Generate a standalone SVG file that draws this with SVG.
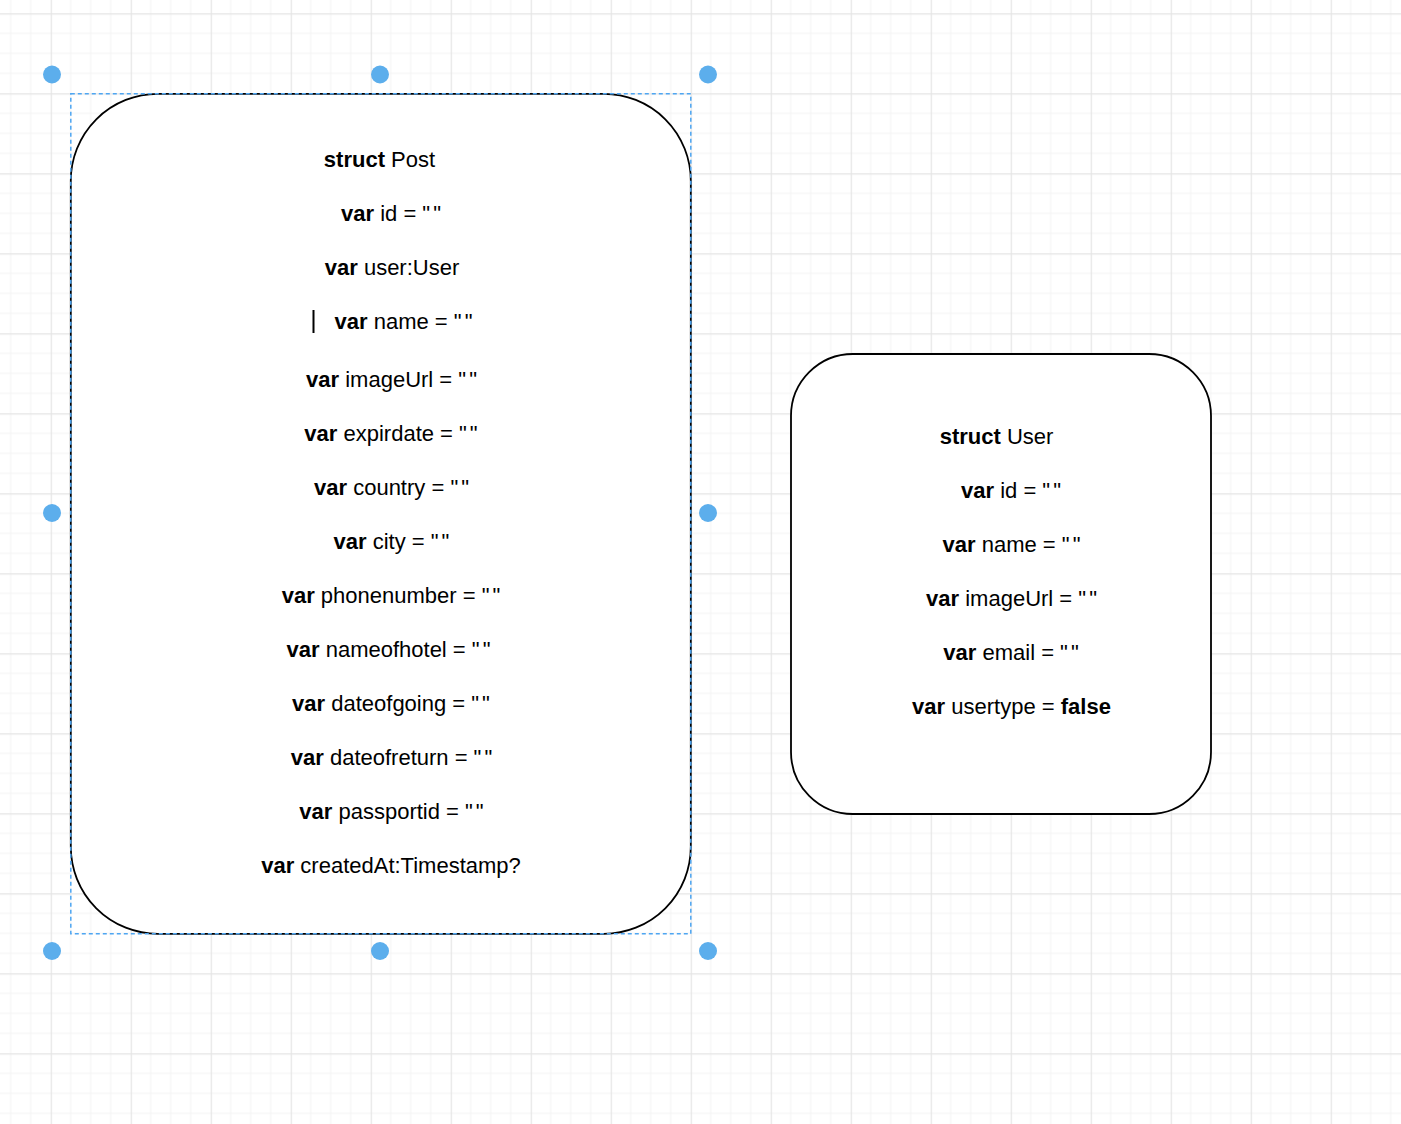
<svg xmlns="http://www.w3.org/2000/svg" width="1401" height="1124" viewBox="0 0 1401 1124">
<defs>
<pattern id="grid" patternUnits="userSpaceOnUse" x="50.7" y="13.3" width="80" height="80">
<path d="M20 0V80M40 0V80M60 0V80M0 20H80M0 40H80M0 60H80" stroke="#f3f3f3" stroke-width="1" fill="none"/>
<path d="M0.5 0V80M0 0.5H80" stroke="#e4e4e4" stroke-width="1.3" fill="none"/>
</pattern>
<style>
.box{fill:#ffffff;stroke:#000000;stroke-width:1.8}
.sel{fill:none;stroke:#4ea6f2;stroke-width:1.5;stroke-dasharray:4 3}
.h{fill:#5caeec}
text{font-family:"Liberation Sans",Arial,Helvetica,sans-serif;font-size:22px;fill:#000;text-anchor:middle}
.b{font-weight:bold}
</style>
</defs>
<rect x="0" y="0" width="1401" height="1124" fill="#ffffff"/>
<rect x="0" y="0" width="1401" height="1124" fill="url(#grid)"/>
<g id="connectors"></g>
<g id="post">
<rect class="box" x="70.8" y="93.8" width="620" height="840" rx="87" ry="87"/>
<text x="379.5" y="167"><tspan class="b">struct</tspan> Post</text>
<text x="391" y="221"><tspan class="b">var</tspan> id = "<tspan dx="3">"</tspan></text>
<text x="392" y="275"><tspan class="b">var</tspan> user:User</text>
<rect x="312.5" y="310" width="2" height="23" fill="#000"/>
<text x="403.5" y="329"><tspan class="b">var</tspan> name = "<tspan dx="3">"</tspan></text>
<text x="391.5" y="387"><tspan class="b">var</tspan> imageUrl = "<tspan dx="3">"</tspan></text>
<text x="391" y="441"><tspan class="b">var</tspan> expirdate = "<tspan dx="3">"</tspan></text>
<text x="391.5" y="495"><tspan class="b">var</tspan> country = "<tspan dx="3">"</tspan></text>
<text x="391.5" y="549"><tspan class="b">var</tspan> city = "<tspan dx="3">"</tspan></text>
<text x="391" y="603"><tspan class="b">var</tspan> phonenumber = "<tspan dx="3">"</tspan></text>
<text x="388.5" y="657"><tspan class="b">var</tspan> nameofhotel = "<tspan dx="3">"</tspan></text>
<text x="391" y="711"><tspan class="b">var</tspan> dateofgoing = "<tspan dx="3">"</tspan></text>
<text x="391.5" y="765"><tspan class="b">var</tspan> dateofreturn = "<tspan dx="3">"</tspan></text>
<text x="391.5" y="819"><tspan class="b">var</tspan> passportid = "<tspan dx="3">"</tspan></text>
<text x="391" y="873"><tspan class="b">var</tspan> createdAt:Timestamp?</text>
</g>
<g id="selection">
<rect class="sel" x="70.8" y="93.8" width="620" height="840"/>
<circle class="h" cx="52" cy="74.5" r="9"/>
<circle class="h" cx="380" cy="74.5" r="9"/>
<circle class="h" cx="708" cy="74.5" r="9"/>
<circle class="h" cx="52" cy="513" r="9"/>
<circle class="h" cx="708" cy="513" r="9"/>
<circle class="h" cx="52" cy="951" r="9"/>
<circle class="h" cx="380" cy="951" r="9"/>
<circle class="h" cx="708" cy="951" r="9"/>
</g>
<g id="user">
<rect class="box" x="791" y="354" width="420" height="460" rx="62" ry="62"/>
<text x="996.5" y="444"><tspan class="b">struct</tspan> User</text>
<text x="1011" y="498"><tspan class="b">var</tspan> id = "<tspan dx="3">"</tspan></text>
<text x="1011.5" y="552"><tspan class="b">var</tspan> name = "<tspan dx="3">"</tspan></text>
<text x="1011.5" y="606"><tspan class="b">var</tspan> imageUrl = "<tspan dx="3">"</tspan></text>
<text x="1011" y="660"><tspan class="b">var</tspan> email = "<tspan dx="3">"</tspan></text>
<text x="1011.5" y="714"><tspan class="b">var</tspan> usertype = <tspan class="b">false</tspan></text>
</g>
</svg>
